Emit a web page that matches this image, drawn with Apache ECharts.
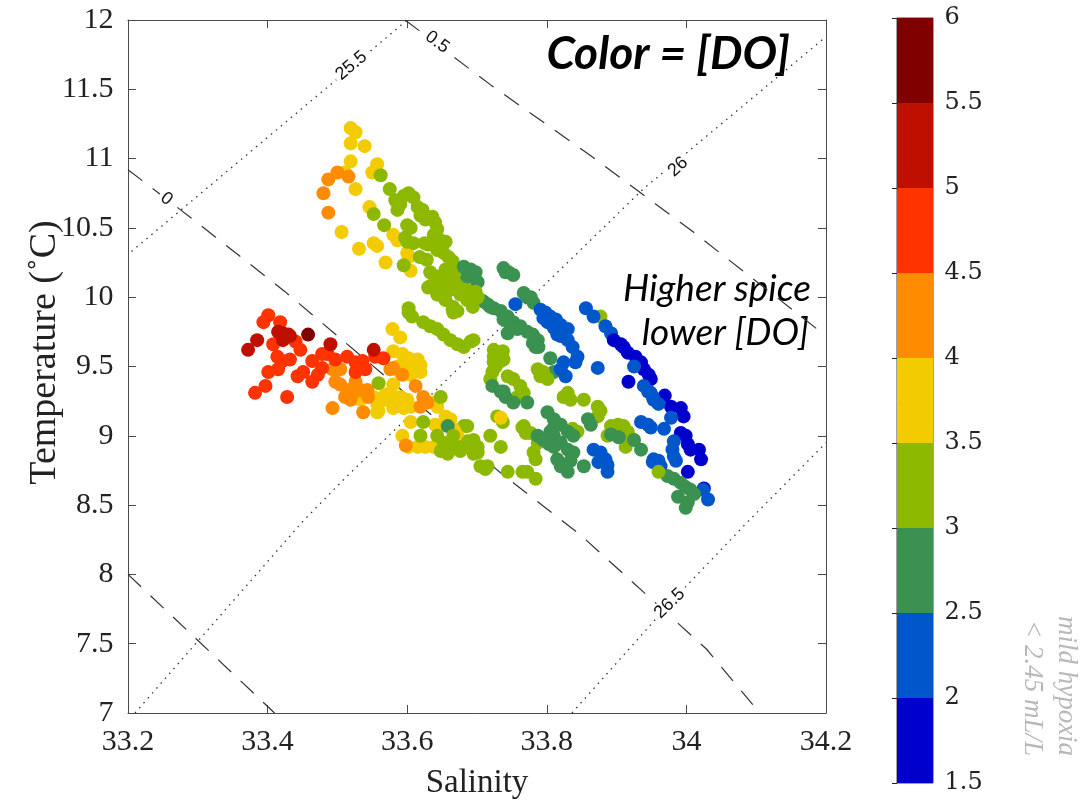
<!DOCTYPE html>
<html>
<head>
<meta charset="utf-8">
<script src="https://cdn.jsdelivr.net/npm/echarts@6/dist/echarts.min.js"></script>
<style>
html, body { margin: 0; background: #fff; }
#chart { width: 1087px; height: 805px; }
</style>
</head>
<body>
<div id="chart"></div>
<script>
// salinity, temperature, dissolved oxygen (mL/L)
var warmArm = [
  [33.519,11.22,3.7],[33.526,11.19,3.8],[33.519,11.11,3.7],[33.539,11.09,3.6],[33.519,10.98,3.8],[33.557,10.96,3.7],
  [33.511,10.90,3.9],[33.550,10.90,3.7],[33.526,10.78,3.8],[33.546,10.65,3.6],[33.506,10.47,3.7],[33.531,10.35,3.8],
  [33.552,10.39,3.7],[33.557,10.37,3.6],[33.569,10.25,3.7],[33.580,10.45,3.9],[33.586,10.41,3.7],[33.600,10.32,3.6],
  [33.602,10.29,3.7],[33.605,10.19,3.9],
  [33.500,10.90,4.2],[33.516,10.87,4.1],[33.487,10.85,4.3],[33.480,10.75,4.3],[33.487,10.61,4.2],
  [33.562,10.88,3.3],[33.575,10.78,3.2],[33.552,10.60,3.3],[33.567,10.52,3.2],[33.583,10.70,3.1],[33.595,10.73,3.2],
  [33.602,10.75,3.3],[33.609,10.72,3.2],[33.615,10.65,3.1],[33.622,10.63,3.2],[33.586,10.63,3.3],[33.619,10.59,3.2],
  [33.636,10.58,3.1],[33.640,10.54,3.2],[33.643,10.49,3.3],[33.638,10.45,3.2],[33.600,10.52,3.1],[33.605,10.50,3.2],
  [33.597,10.43,3.2],[33.600,10.40,3.3],[33.609,10.39,3.1],[33.625,10.39,3.2],[33.618,10.29,3.3],[33.595,10.23,3.1],
  [33.648,10.41,3.2],[33.655,10.40,3.1],[33.643,10.34,3.2],[33.652,10.32,3.3],[33.659,10.29,3.2],[33.665,10.26,3.1],
  [33.633,10.18,3.2],[33.643,10.15,3.3],[33.652,10.14,3.2],[33.662,10.13,3.1],[33.672,10.11,3.2],[33.630,10.07,3.2],
  [33.645,10.02,3.1],[33.666,9.93,3.2],[33.602,9.92,3.3],[33.628,10.27,3.2],[33.655,10.20,3.1],[33.668,10.19,3.2],
  [33.678,10.06,3.2],[33.660,10.05,3.3],[33.690,10.08,3.1],[33.590,10.67,3.2],[33.626,10.56,3.1],[33.630,10.38,3.2],
  [33.669,10.21,3.3],[33.659,10.05,3.2],[33.676,10.02,3.1],[33.648,10.09,3.2],[33.655,9.98,3.3]
];

var upperGreen = [
  [33.681,10.22,2.8],[33.691,10.20,2.7],[33.698,10.18,2.8],[33.686,10.15,2.9],[33.701,10.11,2.7],[33.738,10.21,2.8],
  [33.745,10.18,2.7],[33.752,10.16,2.8],[33.741,10.18,2.9],[33.705,9.98,2.8],[33.715,9.95,2.7],[33.724,9.92,2.8],
  [33.734,9.90,2.7],[33.744,9.86,2.8],[33.752,9.82,2.7],[33.762,9.79,2.8],[33.772,9.75,2.7],[33.780,9.73,2.8],
  [33.787,9.69,2.9],[33.788,9.64,2.7],[33.738,9.84,2.8],[33.748,9.79,2.7],[33.744,9.74,2.8],[33.767,10.03,2.7],
  [33.772,10.00,2.8],[33.781,9.96,2.6],[33.780,9.67,2.8],[33.784,9.64,2.7],[33.805,9.56,2.8],[33.810,9.46,2.7],
  [33.709,9.97,2.8],[33.719,9.93,2.7],[33.758,9.77,2.8],[33.777,10.00,2.7],
  [33.681,10.05,3.2],[33.691,10.03,3.1],[33.698,10.04,3.2],[33.686,9.98,3.3],[33.701,10.00,3.2],[33.694,9.93,3.1],
  [33.877,9.86,3.2]
];

var blueCore = [
  [33.755,9.95,2.3],[33.791,9.91,2.2],[33.798,9.89,2.3],[33.805,9.86,2.2],[33.813,9.84,2.1],[33.820,9.80,2.2],
  [33.830,9.77,2.3],[33.801,9.82,2.2],[33.810,9.78,2.1],[33.820,9.72,2.2],[33.830,9.69,2.3],[33.837,9.64,2.2],
  [33.844,9.57,2.3],[33.841,9.53,2.2],[33.824,9.53,2.4],[33.820,9.48,2.3],[33.827,9.43,2.2],[33.815,9.73,2.2],
  [33.795,9.85,2.3],[33.873,9.49,2.2],[33.856,9.92,2.3],[33.867,9.86,2.2],[33.884,9.79,2.2],[33.892,9.74,2.1]
];

var eastArm = [
  [33.896,9.69,1.9],[33.906,9.66,1.8],[33.910,9.64,1.9],[33.916,9.60,1.8],[33.927,9.57,1.9],[33.935,9.53,1.8],
  [33.939,9.48,1.9],[33.946,9.44,1.8],[33.949,9.41,1.9],[33.917,9.39,1.9],[33.969,9.29,1.8],[33.978,9.21,1.9],
  [33.992,9.20,1.8],[33.996,9.14,1.9],[33.992,9.02,1.8],[33.999,9.00,1.9],[34.002,8.94,1.8],[34.006,8.90,1.9],
  [34.018,8.90,1.8],[34.021,8.83,1.9],[34.002,8.74,1.8],[34.025,8.62,1.8],
  [33.925,9.50,2.2],[33.939,9.36,2.3],[33.945,9.32,2.2],[33.949,9.31,2.1],[33.952,9.28,2.2],[33.953,9.26,2.3],
  [33.960,9.23,2.2],[33.978,9.13,2.1],[33.935,9.10,2.2],[33.945,9.08,2.3],[33.949,9.06,2.2],[33.968,9.05,2.2],
  [33.982,8.96,2.1],[33.980,8.90,2.2],[33.982,8.85,2.3],[33.985,8.82,2.2],[33.953,8.83,2.3],[33.960,8.82,2.2],
  [33.963,8.78,2.3],[33.952,8.81,2.2],[34.024,8.61,2.2],[34.031,8.54,2.3],
  [33.973,8.71,2.7],[33.982,8.69,2.8],[33.992,8.66,2.7],[33.999,8.63,2.8],[34.006,8.61,2.7],[34.011,8.58,2.8],
  [33.988,8.56,2.7],[34.002,8.52,2.8],[33.999,8.48,2.7],[33.960,8.74,3.2]
];

var lowerBand = [
  [33.602,9.89,3.2],[33.607,9.86,3.1],[33.623,9.82,3.2],[33.633,9.79,3.3],[33.643,9.77,3.2],[33.652,9.73,3.1],
  [33.662,9.69,3.2],[33.672,9.66,3.3],[33.681,9.64,3.2],[33.691,9.68,3.1],[33.695,9.69,3.2],[33.665,9.91,3.2],
  [33.672,9.90,3.1],[33.666,9.89,3.3],[33.633,10.08,3.2],[33.643,10.02,3.1],[33.724,9.62,3.2],[33.737,9.61,3.1],
  [33.738,9.55,3.2],[33.724,9.53,3.3],[33.722,9.46,3.2],[33.719,9.41,3.1],[33.744,9.43,3.2],[33.752,9.41,3.3],
  [33.762,9.36,3.2],[33.767,9.31,3.1],[33.758,9.28,3.2],[33.787,9.48,3.2],[33.791,9.43,3.1],[33.801,9.41,3.2],
  [33.795,9.46,3.3],[33.830,9.31,3.2],[33.834,9.26,3.1],[33.853,9.26,3.2],[33.873,9.21,3.3],[33.877,9.18,3.2],
  [33.873,9.14,3.1],[33.824,9.28,3.2],[33.902,9.08,3.2],[33.910,9.07,3.1],[33.916,9.03,3.2],[33.917,9.00,3.3],
  [33.913,8.92,3.2],[33.892,9.07,3.2],[33.896,9.02,3.1],[33.887,9.00,3.2],[33.837,9.05,3.2],[33.844,9.03,3.3],
  [33.767,9.07,3.2],[33.777,9.02,3.1],[33.787,8.95,3.2],[33.781,8.88,3.3],[33.729,9.14,3.2],[33.737,9.10,3.1],
  [33.719,9.00,3.2],[33.734,8.92,3.1],[33.681,9.07,3.2],[33.686,8.96,3.3],[33.695,8.97,3.2],[33.701,8.92,3.1],
  [33.695,8.87,3.2],[33.705,8.78,3.2],[33.712,8.76,3.1],[33.765,9.06,3.2],[33.770,9.02,3.3],[33.784,8.83,3.2],
  [33.772,8.74,3.1],[33.784,8.69,3.2],[33.744,8.74,3.2],[33.765,8.74,3.1],[33.724,9.57,3.2],[33.734,9.54,3.3],
  [33.727,9.50,3.2],[33.734,9.13,3.7],
  [33.722,9.36,2.8],[33.734,9.32,2.7],[33.741,9.28,2.8],[33.752,9.24,2.7],[33.772,9.24,2.8],[33.738,9.32,2.9],
  [33.859,9.12,2.7],[33.863,9.08,2.8],[33.801,9.17,2.7],[33.810,9.12,2.8],[33.820,9.08,2.7],[33.810,9.06,2.8],
  [33.830,9.03,2.7],[33.838,9.00,2.8],[33.810,9.00,2.6],[33.820,8.95,2.7],[33.830,8.90,2.8],[33.838,8.88,2.7],
  [33.834,8.82,2.8],[33.820,8.78,2.7],[33.830,8.74,2.8],[33.853,8.78,2.7],[33.787,9.00,2.8],[33.795,8.97,2.7],
  [33.803,8.94,2.8],[33.810,8.92,2.7],[33.815,8.83,2.8],[33.892,9.01,2.7],[33.903,8.99,2.8],[33.925,8.97,2.7],
  [33.935,8.90,2.8],[33.805,9.03,2.7],
  [33.867,8.90,2.2],[33.877,8.88,2.3],[33.884,8.83,2.2],[33.887,8.79,2.1],[33.887,8.74,2.2],[33.874,8.81,2.3],
  [33.882,8.82,2.2]
];

var westCluster = [
  [33.579,9.77,3.7],[33.590,9.71,3.8],[33.580,9.61,3.7],[33.593,9.59,3.6],[33.602,9.56,3.7],[33.615,9.55,3.8],
  [33.619,9.51,3.7],[33.609,9.49,3.6],[33.595,9.51,3.7],[33.586,9.50,3.8],[33.619,9.46,3.7],[33.605,9.44,3.6],
  [33.590,9.46,3.8],[33.580,9.37,3.7],[33.552,9.28,3.7],[33.562,9.25,3.8],[33.572,9.26,3.6],[33.580,9.28,3.7],
  [33.590,9.28,3.7],[33.600,9.26,3.8],[33.605,9.21,3.7],[33.595,9.20,3.6],[33.580,9.20,3.7],[33.559,9.18,3.8],
  [33.533,9.26,3.9],[33.557,9.23,3.8],[33.557,9.17,3.9],[33.638,9.24,3.7],[33.643,9.21,3.8],[33.605,9.10,3.7],
  [33.593,9.00,3.7],[33.655,9.14,3.7],[33.662,9.12,3.6],[33.666,9.05,3.7],[33.672,9.02,3.8],[33.640,9.08,3.7],
  [33.648,9.07,3.6],[33.602,8.92,3.9],[33.615,8.92,3.8],[33.626,8.92,3.8],[33.638,8.92,3.7],[33.569,9.30,3.7],
  [33.576,9.48,4.2],[33.580,9.49,4.1],[33.593,9.44,4.2],[33.612,9.36,4.3],[33.623,9.28,4.2],[33.629,9.24,4.1],
  [33.619,9.21,4.2],[33.493,9.48,4.3],[33.504,9.48,4.2],[33.497,9.39,4.3],[33.504,9.37,4.2],[33.514,9.33,4.1],
  [33.526,9.39,4.2],[33.533,9.33,4.3],[33.511,9.28,4.2],[33.543,9.33,4.1],[33.544,9.28,4.2],[33.493,9.20,4.3],
  [33.537,9.17,4.2],[33.523,9.31,4.2],[33.598,8.93,4.1],[33.519,9.26,4.2],
  [33.401,9.87,4.7],[33.394,9.82,4.8],[33.418,9.82,4.7],[33.408,9.66,4.8],[33.440,9.68,4.7],[33.478,9.59,4.6],
  [33.464,9.54,4.7],[33.478,9.49,4.8],[33.514,9.57,4.7],[33.526,9.53,4.6],[33.536,9.54,4.7],[33.540,9.48,4.6],
  [33.526,9.46,4.7],[33.414,9.57,4.8],[33.421,9.54,4.7],[33.415,9.48,4.7],[33.401,9.46,4.8],[33.443,9.43,4.7],
  [33.451,9.46,4.6],[33.464,9.39,4.7],[33.397,9.36,4.8],[33.382,9.31,4.7],[33.428,9.28,4.8],[33.554,9.57,4.7],
  [33.566,9.56,4.6],[33.486,9.59,4.7],[33.447,9.62,4.7],[33.432,9.55,4.8],[33.497,9.55,4.6],[33.472,9.44,4.7],
  [33.415,9.75,5.2],[33.422,9.74,5.3],[33.430,9.73,5.2],[33.422,9.69,5.1],[33.432,9.72,5.2],[33.385,9.69,5.2],
  [33.372,9.62,5.3],[33.490,9.66,5.2],[33.552,9.62,5.1],[33.458,9.73,5.7],
  [33.559,9.38,3.2],[33.648,9.28,3.2],[33.623,9.10,3.3],[33.658,9.07,2.8],[33.619,9.00,3.2],[33.643,9.00,3.1],
  [33.652,8.95,3.2],[33.648,8.89,3.3],[33.658,8.87,3.2],[33.666,8.92,3.1],[33.676,8.92,3.2],[33.695,8.92,3.2],
  [33.701,8.88,3.1],[33.715,8.78,3.2],[33.666,9.00,3.2],[33.676,8.89,3.3],[33.686,9.07,3.2]
];

// colour bar classes
var doEdges = [1.5, 2, 2.5, 3, 3.5, 4, 4.5, 5, 5.5, 6];
var doColors = ['#0000cc', '#0057cc', '#3a9150', '#8db800', '#f2cb00', '#ff8c00', '#ff3300', '#bf0f00', '#800000'];

// tick labels
var salTicks = [33.2, 33.4, 33.6, 33.8, 34, 34.2];
var tempTicks = [7, 7.5, 8, 8.5, 9, 9.5, 10, 10.5, 11, 11.5, 12];

// isopycnals (sigma-theta) and spice lines, [S, T]
var sigma255 = [[33.205, 10.33], [33.52, 11.66], [33.60, 12.0]];
var sigma26 = [[33.21, 7.0], [33.45, 8.38], [33.514, 8.71], [33.705, 9.64], [33.938, 10.78], [34.2, 11.88]];
var sigma265 = [[33.836, 7.0], [33.976, 7.79], [34.086, 8.37], [34.2, 8.95]];
var spiceM05 = [[33.2, 8.0], [33.41, 7.0]];
var spice0 = [[33.2, 10.92], [33.296, 10.55], [33.425, 10.04], [33.573, 9.41], [33.737, 8.72], [33.847, 8.29], [34.029, 7.46], [34.105, 7.0]];
var spice05 = [[33.597, 12.0], [33.72, 11.53], [33.866, 11.01], [34.01, 10.47], [34.2, 9.72]];

var contourLabels = [
  { text: '25.5', at: [33.52, 11.67], angle: 40 },
  { text: '26', at: [33.988, 10.94], angle: 42 },
  { text: '26.5', at: [33.976, 7.79], angle: 44 },
  { text: '0', at: [33.255, 10.71], angle: -38 },
  { text: '0.5', at: [33.643, 11.84], angle: -36 }
];

var chart = echarts.init(document.getElementById('chart'));

var serif = 'Liberation Serif';
var axisCol = '#4a4a4a';
var salMin = salTicks[0], salMax = salTicks[salTicks.length - 1];
var tMin = tempTicks[0], tMax = tempTicks[tempTicks.length - 1];

function frameAxis(pos, min, max, step, grid) {
  return {
    type: 'value', gridIndex: grid, position: pos,
    min: min, max: max, interval: step,
    axisLine: { show: true, lineStyle: { color: axisCol, width: 1 } },
    axisTick: { show: true, inside: true, length: 8, lineStyle: { color: axisCol } },
    axisLabel: { show: false }, splitLine: { show: false }
  };
}

function fmt(v) { return String(+v.toFixed(2)); }

// tick labels as series labels, anchored to axis values
function tickSeries(xi, yi, points, pick, pos, dist, family, size) {
  return {
    type: 'scatter', xAxisIndex: xi, yAxisIndex: yi, silent: true, clip: false, z: 5,
    symbolSize: 1, itemStyle: { color: 'rgba(255,255,255,0)', opacity: 1 },
    labelLayout: { hideOverlap: false },
    data: points,
    label: {
      show: true, position: pos, distance: dist,
      formatter: function (p) { return fmt(p.value[pick]); },
      fontFamily: family, fontSize: size, color: '#222'
    }
  };
}

function contour(path, dash) {
  return {
    type: 'line', data: path, symbol: 'none', silent: true, z: 1,
    lineStyle: { color: '#333', width: dash === 'dot' ? 1.3 : 1.2,
      type: dash === 'dot' ? [1.5, 5] : [18, 13] },
    clip: true
  };
}

var pts = warmArm.concat(upperGreen, blueCore, eastArm, lowerBand, westCluster);

var pieces = [];
for (var i = 0; i < doColors.length; i++) {
  pieces.push({ gte: doEdges[i], lt: doEdges[i + 1], color: doColors[i] });
}

var barAreas = pieces.map(function (p) {
  return [{ yAxis: p.gte, itemStyle: { color: p.color } }, { yAxis: p.lt }];
});

var option = {
  backgroundColor: '#fff',
  animation: false,
  grid: [
    { left: 128, top: 20, width: 698, height: 694 },
    { left: 897, top: 18, width: 36, height: 765, show: true, borderColor: '#444', borderWidth: 1 }
  ],
  xAxis: [
    Object.assign(frameAxis('bottom', salMin, salMax, 0.2, 0), {
      name: 'Salinity', nameLocation: 'middle', nameGap: 54,
      nameTextStyle: { fontFamily: serif, fontSize: 33, color: '#222' }
    }),
    frameAxis('top', salMin, salMax, 0.2, 0),
    { type: 'value', gridIndex: 1, min: 0, max: 1, show: false }
  ],
  yAxis: [
    Object.assign(frameAxis('left', tMin, tMax, 0.5, 0), {
      name: 'Temperature (\u02daC)', nameLocation: 'middle', nameGap: 64, nameRotate: 90,
      nameTextStyle: { fontFamily: serif, fontSize: 38, color: '#222', padding: [0, 0, 0, 28] }
    }),
    frameAxis('right', tMin, tMax, 0.5, 0),
    {
      type: 'value', gridIndex: 1, position: 'right',
      min: doEdges[0], max: doEdges[doEdges.length - 1], interval: 0.5,
      axisLine: { show: false },
      axisTick: { show: true, inside: true, length: 5, lineStyle: { color: '#222' } },
      axisLabel: { show: false },
      splitLine: { show: false }
    }
  ],
  visualMap: {
    type: 'piecewise', show: false, seriesIndex: 0, dimension: 2, pieces: pieces
  },
  series: [
    {
      type: 'scatter', xAxisIndex: 0, yAxisIndex: 0, data: pts,
      symbolSize: 14, z: 3, itemStyle: { opacity: 1 }
    },
    contour(sigma255, 'dot'),
    contour(sigma26, 'dot'),
    contour(sigma265, 'dot'),
    contour(spiceM05, 'dash'),
    contour(spice0, 'dash'),
    contour(spice05, 'dash'),
    {
      type: 'scatter', xAxisIndex: 0, yAxisIndex: 0, z: 2, silent: true,
      symbolSize: 2, itemStyle: { color: 'rgba(255,255,255,0)', opacity: 1 },
      labelLayout: { hideOverlap: false },
      data: contourLabels.map(function (c) {
        return {
          value: c.at,
          label: {
            show: true, position: 'inside', formatter: c.text, rotate: c.angle,
            fontFamily: 'Liberation Sans', fontSize: 18, color: '#111',
            backgroundColor: '#fff', padding: [0, 3]
          }
        };
      })
    },
    {
      type: 'line', xAxisIndex: 2, yAxisIndex: 2, data: [[0, 1.5]], symbol: 'none',
      lineStyle: { opacity: 0 }, silent: true,
      markArea: { silent: true, data: barAreas }
    },
    tickSeries(0, 0, salTicks.map(function (v) { return [v, tMin]; }), 0, 'bottom', 14, serif, 30),
    tickSeries(0, 0, tempTicks.map(function (v) { return [salMin, v]; }), 1, 'left', 14, serif, 30),
    tickSeries(2, 2, doEdges.map(function (v) { return [1, v]; }), 1, 'right', 11, 'DejaVu Serif', 24)
  ],
  graphic: [
    {
      type: 'text', x: 790, y: 54,
      style: { text: 'Color = [DO]', font: 'italic bold 46px Lato', fill: '#000',
        textAlign: 'right', textVerticalAlign: 'middle' }
    },
    {
      type: 'text', x: 811, y: 289,
      style: { text: 'Higher spice', font: 'italic 37px Lato', fill: '#000',
        textAlign: 'right', textVerticalAlign: 'middle' }
    },
    {
      type: 'text', x: 809, y: 333,
      style: { text: 'lower [DO]', font: 'italic 37px Lato', fill: '#000',
        textAlign: 'right', textVerticalAlign: 'middle' }
    },
    {
      type: 'text', x: 1066, y: 686, rotation: -Math.PI / 2,
      style: { text: 'mild hypoxia', font: 'italic 27px "Liberation Serif"', fill: '#b8b8b8',
        textAlign: 'center', textVerticalAlign: 'middle' }
    },
    {
      type: 'text', x: 1032, y: 688, rotation: -Math.PI / 2,
      style: { text: '< 2.45 mL/L', font: 'italic 27px "Liberation Serif"', fill: '#b8b8b8',
        textAlign: 'center', textVerticalAlign: 'middle' }
    }
  ]
};

chart.setOption(option);
window.addEventListener('resize', chart.resize);
</script>
</body>
</html>
